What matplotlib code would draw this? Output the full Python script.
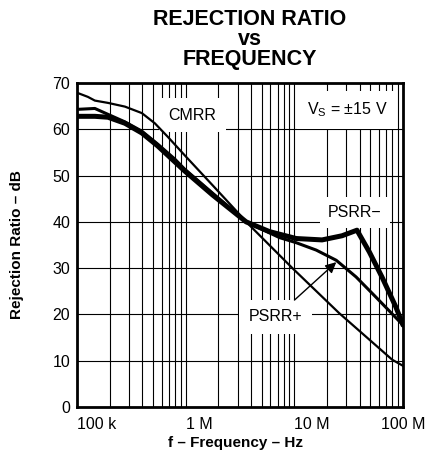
import matplotlib
matplotlib.use('Agg')
import matplotlib.pyplot as plt
from matplotlib.ticker import LogLocator, NullFormatter

plt.rcParams['font.family'] = ['Liberation Sans', 'DejaVu Sans']

# data (Hz, dB)
cmrr_f = [1e5, 1.26e5, 1.46e5, 1.93e5, 2.76e5, 3.95e5, 5.2e5, 6.83e5, 9.78e5,
          1.77e6, 3.86e6, 9.6e6, 2.58e7, 7.97e7, 1e8]
cmrr_db = [67.9, 67.0, 66.2, 65.7, 64.9, 63.5, 61.3, 58.4, 54.4,
           47.9, 39.3, 30.0, 20.3, 10.2, 8.9]

psrrp_f = [1e5, 1.46e5, 1.7e5, 2.76e5, 3.95e5, 5.53e5, 7.92e5, 9.78e5,
           1.77e6, 3.6e6, 7.3e6, 1.04e7, 1.59e7, 2.43e7, 3.7e7, 5.6e7, 1e8]
psrrp_db = [64.3, 64.5, 63.8, 61.6, 59.6, 56.8, 53.6, 51.4,
            46.2, 40.0, 36.6, 35.5, 33.9, 31.7, 28.1, 23.8, 17.7]

psrrm_f = [1e5, 1.46e5, 1.93e5, 2.76e5, 3.95e5, 5.53e5, 7.92e5, 9.78e5,
           1.77e6, 3.6e6, 5.9e6, 1.04e7, 1.8e7, 2.75e7, 3.77e7, 4.9e7, 6.4e7, 8.6e7, 1e8]
psrrm_db = [62.8, 62.8, 62.6, 61.3, 59.2, 56.4, 53.0, 51.0,
            45.8, 40.0, 37.9, 36.4, 36.1, 37.0, 38.2, 33.5, 28.1, 21.6, 17.7]

xticks = [1e5, 1e6, 1e7, 1e8]
xlabels = ['100 k', '1 M', '10 M', '100 M']
yticks = [0, 10, 20, 30, 40, 50, 60, 70]

fig = plt.figure(figsize=(4.28, 4.62), dpi=100)
ax = fig.add_axes([77/428, 55/462, 326/428, 324/462])

ax.plot(cmrr_f, cmrr_db, color='black', lw=1.6, zorder=3, solid_capstyle='round')
ax.plot(psrrp_f, psrrp_db, color='black', lw=2.2, zorder=3, solid_capstyle='round')
ax.plot(psrrm_f, psrrm_db, color='black', lw=3.6, zorder=3, solid_capstyle='round')

ax.set_xscale('log')
ax.set_xlim(1e5, 1e8)
ax.set_ylim(0, 70)
ax.set_yticks(yticks)
ax.set_xticks(xticks)
ax.set_xticklabels(xlabels)
ax.xaxis.set_minor_locator(LogLocator(base=10, subs=range(2, 10)))
ax.xaxis.set_minor_formatter(NullFormatter())
ax.tick_params(which='both', length=0, labelsize=11.5)
ax.tick_params(axis='x', pad=7)
ax.tick_params(axis='y', pad=5)
for lab in ax.get_xticklabels()[:3]:
    lab.set_ha('left')

ax.grid(True, which='both', axis='x', color='black', lw=0.8)
ax.grid(True, which='major', axis='y', color='black', lw=0.8)
ax.set_axisbelow(True)
for s in ax.spines.values():
    s.set_linewidth(2)

box = dict(boxstyle='square,pad=0.6', facecolor='white', edgecolor='none')
ax.text(0.353, 0.901, 'CMRR', transform=ax.transAxes, ha='center', va='center',
        fontsize=11.5, bbox=box, zorder=2)
ax.text(0.828, 0.917, r'V$_\mathregular{S}$ = ±15 V', transform=ax.transAxes,
        ha='center', va='center', fontsize=11.5, bbox=box, zorder=2)
ax.text(0.853, 0.599, 'PSRR−', transform=ax.transAxes, ha='center', va='center',
        fontsize=11.5, bbox=dict(boxstyle='square,pad=0.5', facecolor='white', edgecolor='none'), zorder=2)
ax.text(0.610, 0.278, 'PSRR+', transform=ax.transAxes, ha='center', va='center',
        fontsize=11.5, bbox=box, zorder=2)
ax.annotate('', xy=(2.54e7, 31.7), xytext=(9.6e6, 22.7),
            arrowprops=dict(arrowstyle='-|>', color='black', lw=1, mutation_scale=16),
            zorder=4)

fig.text(250/428, 1 - 9/462, 'REJECTION RATIO\nvs\nFREQUENCY', ha='center', va='top',
         multialignment='center', linespacing=0.95, fontsize=15.5, fontweight='bold')
fig.text(17/428, 1 - 245/462, 'Rejection Ratio – dB', rotation=90, ha='center',
         va='center', fontsize=11, fontweight='bold')
fig.text(236/428, 1 - 443/462, 'f – Frequency – Hz', ha='center', va='center',
         fontsize=11, fontweight='bold')

fig.savefig('out.png', dpi=100)
